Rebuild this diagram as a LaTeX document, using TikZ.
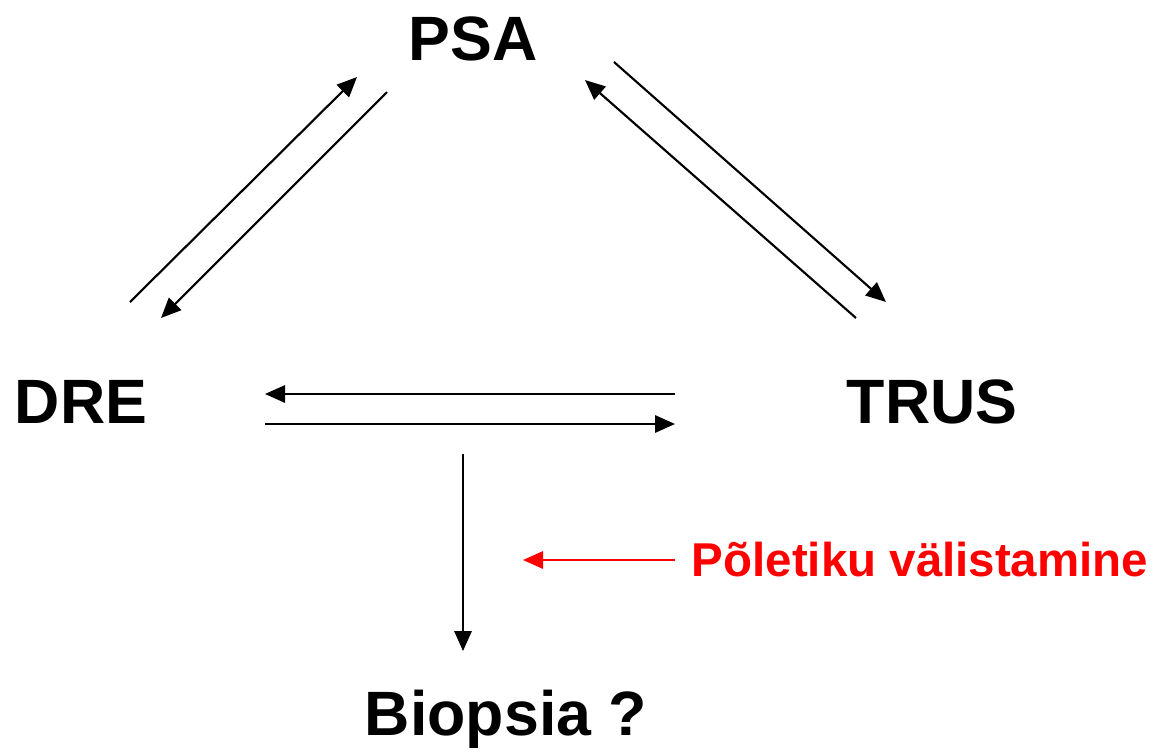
\documentclass[tikz,border=0pt]{standalone}
\usepackage{fontspec}
\setmainfont{Liberation Sans}
\usetikzlibrary{arrows.meta}
\tikzset{
  label/.style={font=\fontsize{47}{50}\selectfont\bfseries, inner sep=0pt, anchor=base},
  note/.style={font=\fontsize{35.6}{38}\selectfont\bfseries, text=red, inner sep=0pt, anchor=base},
  link/.style={-{Triangle[length=15pt,width=13pt]}, line width=1.6pt}
}
\begin{document}
\begin{tikzpicture}[x=0.75pt,y=-0.75pt]
		\useasboundingbox (0,0) rectangle (1157,751);
		% labels
		\node[label] (psa) at (473,60) {PSA};
		\node[label] (dre) at (81,423) {DRE};
		\node[label] (trus) at (932,423) {TRUS};
		\node[label] (biopsy) at (506,735) {Biopsia ?};
		\node[note] (excl) at (920,576) {Põletiku välistamine};
		% arrow ends
		\coordinate (dreA) at (130,302);  \coordinate (psaA) at (357,77);
		\coordinate (psaB) at (387,92);   \coordinate (dreB) at (161,318);
		\coordinate (trusA) at (856,318); \coordinate (psaC) at (585,80);
		\coordinate (psaD) at (614,62);   \coordinate (trusB) at (886,302);
		\coordinate (trusC) at (675,394); \coordinate (dreC) at (265,394);
		\coordinate (dreD) at (265,424);  \coordinate (trusD) at (675,424);
		\coordinate (mid) at (463,454);   \coordinate (biopsyA) at (463,651);
		\coordinate (exclA) at (675,560); \coordinate (midB) at (523,560);
		\draw[link] (dreA) -- (psaA);
		\draw[link] (psaB) -- (dreB);
		\draw[link] (trusA) -- (psaC);
		\draw[link] (psaD) -- (trusB);
		\draw[link] (trusC) -- (dreC);
		\draw[link] (dreD) -- (trusD);
		\draw[link] (mid) -- (biopsyA);
		\draw[link, red] (exclA) -- (midB);
\end{tikzpicture}
\end{document}
